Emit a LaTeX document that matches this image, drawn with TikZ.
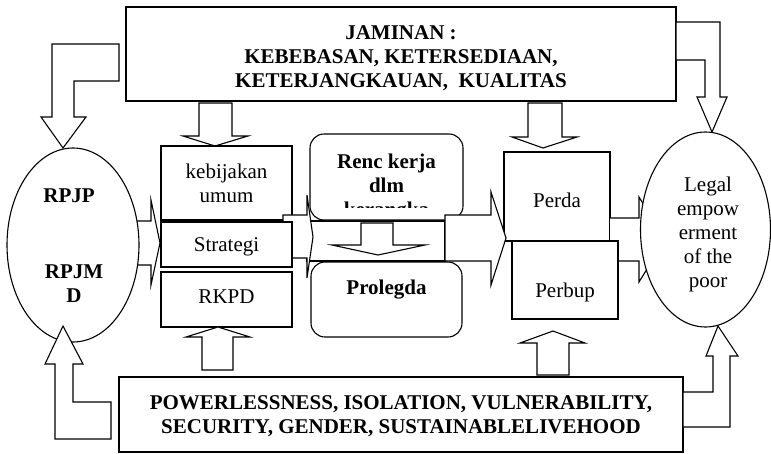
\documentclass[tikz,border=0pt]{standalone}
\usepackage{fontspec}
\setmainfont{Liberation Serif}
\usetikzlibrary{shapes.geometric}

\begin{document}
\begin{tikzpicture}[x=1pt,y=-1pt,line width=1.1pt,
  box/.style={rectangle,draw=black,fill=white,inner sep=0pt,font=\fontsize{21}{24}\selectfont,align=center},
  rbox/.style={box,rounded corners=14pt},
  oval/.style={ellipse,draw=black,fill=white,inner sep=0pt},
  txt/.style={inner sep=0pt,align=center,font=\fontsize{21}{24}\selectfont},
  btxt/.style={inner sep=0pt,align=center,font=\fontsize{21}{24}\selectfont\bfseries},
  blockarrow/.style={draw=black,fill=white,line join=miter}]

%SPACING
\useasboundingbox (0,0) rectangle (771,453);
%SPACING

\node[box,minimum width=550pt,minimum height=94pt](jaminan) at (401,54) {};
\node[btxt](jaminantext) at (401,58) {JAMINAN :\\KEBEBASAN, KETERSEDIAAN,\\KETERJANGKAUAN,\ \ KUALITAS};

\draw[blockarrow] (199,103) -- (232,103) -- (232,136) -- (248,136) -- (215,146) -- (183,136) -- (199,136) -- cycle;
\draw[blockarrow] (528,103) -- (562,103) -- (562,137) -- (577,137) -- (543,148) -- (512,137) -- (528,137) -- cycle;

\draw[blockarrow] (307,221) rectangle (445,261);

\node[rbox,minimum width=153pt,minimum height=86pt](renc) at (386.5,177) {};
\begin{scope}
\clip (305,130) rectangle (470,207.5);
\node[btxt](renctext) at (386.5,188) {Renc kerja\\dlm\\kerangka};
\end{scope}
\node[rbox,minimum width=151pt,minimum height=75pt](prolegda) at (386.5,299.5) {};
\node[btxt](prolegdatext) at (386.5,290) {Prolegda};

\draw[blockarrow] (361,223) -- (393,223) -- (393,245) -- (425,245) -- (378,255) -- (332,245) -- (361,245) -- cycle;

\draw[blockarrow] (120,221) -- (151,221) -- (151,200) -- (160,243) -- (151,285) -- (151,265) -- (120,265) -- cycle;

\node[oval,minimum width=132pt,minimum height=194pt](rpj) at (73,245) {};
\node[btxt](rpjp) at (69,196) {RPJP};
\node[btxt](rpjmd) at (74,284) {RPJM\\D};

\node[box,minimum width=131pt,minimum height=74pt](kebijakan) at (226.5,183) {kebijakan\\umum};
\draw[blockarrow] (283,220) -- (283,215) -- (307,215) -- (307,195) -- (313,237) -- (307,278) -- (307,258) -- (283,258) -- cycle;
\node[box,minimum width=131pt,minimum height=45pt](strategi) at (226.5,244.5) {};
\node[txt](strategitext) at (226.5,247) {Strategi};
\node[box,minimum width=131pt,minimum height=55pt](rkpd) at (226.5,299.5) {};
\node[txt](rkpdtext) at (226.5,297) {RKPD};

\node[box,minimum width=106pt,minimum height=89pt](perda) at (557,196.5) {};
\node[txt](perdatext) at (557,200) {Perda};
\draw[blockarrow] (445,215) -- (491,215) -- (491,192) -- (506,238) -- (491,285) -- (491,261) -- (445,261) -- cycle;

% arrows to legal empowerment
\fill[white] (610,218) -- (639,218) -- (639,197) -- (665,240) -- (639,282) -- (639,261) -- (610,261) -- cycle;
\draw[line join=miter] (610,218) -- (639,218) -- (639,197) -- (665,240);
\draw[line join=miter] (618,261) -- (639,261) -- (639,282) -- (665,240);
\node[box,minimum width=106pt,minimum height=78pt](perbup) at (565,280) {};
\node[txt](perbuptext) at (565,292) {Perbup};

\node[oval,minimum width=130pt,minimum height=195pt](legal) at (705.5,229.5) {};
\node[txt](legaltext) at (708,234) {Legal\\empow\\erment\\of the\\poor};

\node[box,minimum width=564pt,minimum height=75pt](powerless) at (401,414.5) {};
\node[btxt](powerlesstext) at (401,416.5) {POWERLESSNESS, ISOLATION, VULNERABILITY,\\SECURITY, GENDER, SUSTAINABLELIVEHOOD};

\draw[blockarrow] (202,370) -- (233,370) -- (233,337) -- (250,337) -- (218,327) -- (186,337) -- (202,337) -- cycle;
\draw[blockarrow] (537,375) -- (569,375) -- (569,343) -- (585,343) -- (553,331) -- (520,343) -- (537,343) -- cycle;

\draw[blockarrow] (119,44) -- (52,44) -- (52,117) -- (41,117) -- (63,148) -- (86,117) -- (74,117) -- (74,81) -- (119,81) -- cycle;
\draw[blockarrow] (676,22) -- (720,22) -- (720,97) -- (727,97) -- (712,132) -- (697,97) -- (705,97) -- (705,60) -- (676,60) -- cycle;
\draw[blockarrow] (111,402) -- (73,402) -- (73,364) -- (83,364) -- (63,326) -- (45,364) -- (55,364) -- (55,439) -- (111,439) -- cycle;
\draw[blockarrow] (683,392) -- (713,392) -- (713,356) -- (706,356) -- (718,326) -- (738,356) -- (730,356) -- (730,427) -- (683,427) -- cycle;

\end{tikzpicture}
\end{document}
